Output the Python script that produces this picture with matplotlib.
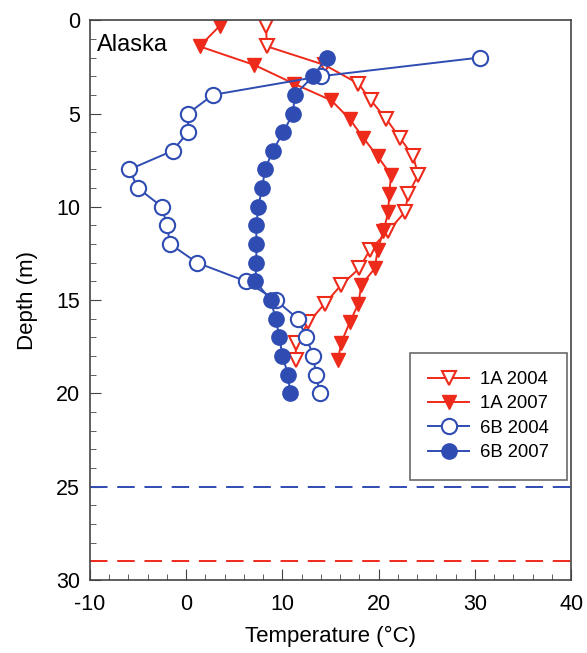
import numpy as np
import matplotlib.pyplot as plt
from matplotlib.ticker import MultipleLocator

plt.rcParams['font.family'] = ['Liberation Sans', 'DejaVu Sans']
plt.rcParams['axes.unicode_minus'] = False

# 1A profiles (triangles)
d_1a = [0.3, 1.4, 2.4, 3.4, 4.3, 5.3, 6.3, 7.3, 8.3, 9.3, 10.3, 11.3, 12.3, 13.3, 14.2, 15.2, 16.2, 17.3, 18.2]
t_1a_2004 = [8.3, 8.4, 14.4, 17.9, 19.2, 20.8, 22.2, 23.6, 24.1, 23.1, 22.7, 21.0, 19.1, 18.0, 16.1, 14.4, 12.7, 11.4, 11.4]
t_1a_2007 = [3.5, 1.4, 7.1, 11.2, 15.1, 17.0, 18.4, 19.9, 21.3, 21.1, 21.0, 20.5, 19.9, 19.6, 18.2, 17.9, 17.0, 16.1, 15.8]

# 6B profiles (circles)
d_6b = list(range(2, 21))
t_6b_2004 = [30.5, 14.0, 2.8, 0.2, 0.2, -1.4, -5.9, -5.0, -2.5, -2.0, -1.65, 1.15, 6.25, 9.3, 11.6, 12.5, 13.2, 13.5, 13.9]
t_6b_2007 = [14.6, 13.2, 11.3, 11.1, 10.1, 9.0, 8.2, 7.9, 7.5, 7.3, 7.3, 7.3, 7.2, 8.8, 9.3, 9.7, 10.0, 10.6, 10.8]

# lake bottom depths
bottom_6b = 25
bottom_1a = 29

red = '#EE2A1B'
blue = '#2F4CB3'

fig = plt.figure(figsize=(5.87, 6.53), dpi=100)
ax = fig.add_axes([0.153, 0.112, 0.82, 0.857])

ax.plot(t_1a_2004, d_1a, color=red, lw=1.4, marker='v', ms=10.5, mfc='white', mec=red, mew=1.5, label='1A 2004')
ax.plot(t_1a_2007, d_1a, color=red, lw=1.4, marker='v', ms=10.5, mfc=red, mec=red, label='1A 2007')
ax.plot(t_6b_2004, d_6b, color=blue, lw=1.4, marker='o', ms=11, mfc='white', mec=blue, mew=1.5, label='6B 2004')
ax.plot(t_6b_2007, d_6b, color=blue, lw=1.4, marker='o', ms=11, mfc=blue, mec=blue, label='6B 2007')

ax.axhline(bottom_6b, color=blue, lw=1.4, dashes=(9, 5))
ax.axhline(bottom_1a, color=red, lw=1.4, dashes=(9, 5))

ax.set_xlim(-10, 40)
ax.set_ylim(30, 0)
ax.xaxis.set_major_locator(MultipleLocator(10))
ax.xaxis.set_minor_locator(MultipleLocator(2))
ax.yaxis.set_major_locator(MultipleLocator(5))
ax.yaxis.set_minor_locator(MultipleLocator(1))
ax.tick_params(which='both', direction='in', top=False, right=False, labelsize=15.5, color='#444444')
ax.tick_params(which='major', length=8)
ax.tick_params(axis='x', which='major', pad=10)
ax.tick_params(axis='y', which='major', pad=7)
ax.tick_params(which='minor', length=4)
for s in ax.spines.values():
    s.set_color('#444444')
    s.set_linewidth(1.2)

ax.set_xlabel('Temperature (°C)', fontsize=16, labelpad=8)
ax.set_ylabel('Depth (m)', fontsize=16, labelpad=13)
ax.text(0.015, 0.975, 'Alaska', transform=ax.transAxes, fontsize=17, va='top', ha='left')

leg = ax.legend(loc='lower right', bbox_to_anchor=(0.992, 0.179), borderaxespad=0, fontsize=13.3,
                frameon=True, fancybox=False, edgecolor='#444444', borderpad=1.0, handlelength=2.2,
                labelspacing=0.4, handletextpad=0.6)
leg.get_frame().set_linewidth(1.2)

plt.savefig('out.png', dpi=100)
